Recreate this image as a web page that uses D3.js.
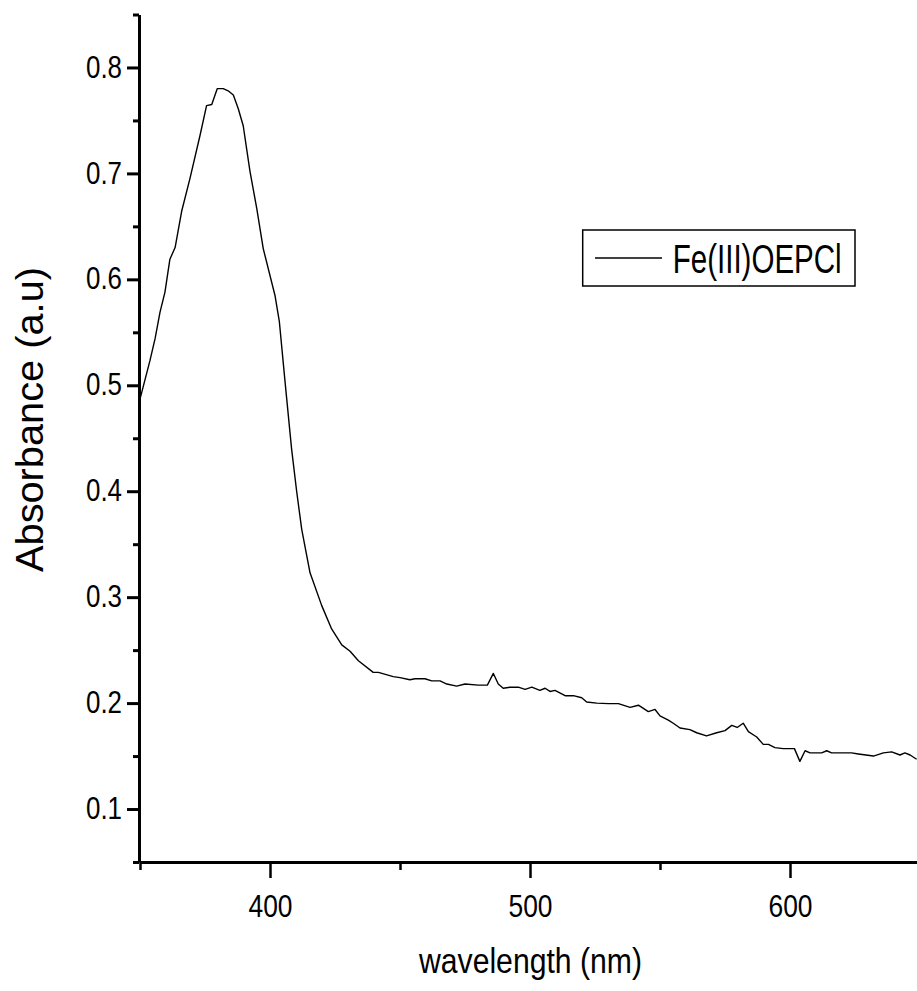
<!DOCTYPE html>
<html>
<head>
<meta charset="utf-8">
<script src="https://cdn.jsdelivr.net/npm/d3@7"></script>
<style>
  html, body { margin: 0; padding: 0; background: #fff; }
  svg { display: block; }
  text { font-family: "Liberation Sans", Arial, sans-serif; fill: #000; }
</style>
</head>
<body>
<svg id="chart" width="917" height="991"></svg>
<script>
// UV-Vis absorption spectrum of Fe(III)OEPCl
const wavelength = [350, 353.8, 355.8, 357.7, 359.6, 361.5, 363.5, 366, 369.2, 373.1, 375.6, 377.6, 379.7, 382, 383.9,
  385.9, 387.8, 389.7, 392.3, 394.9, 397.4, 401.9, 403.6, 405.8, 408.3, 410.3, 412.2, 415.4, 419.9, 423.7,
  427.6, 430.8, 434, 439.7, 441.7, 447.4, 450, 453.8, 455.8, 459.6, 462.2, 465.4, 468, 471.8, 475,
  480.1, 483.6, 485.9, 487.8, 489.7, 492.3, 495.5, 498.1, 500.7, 503.8, 505.8, 507.7, 509.6, 513.5, 516.7,
  519.9, 521.8, 525.7, 530.1, 534, 538.5, 541.7, 545.5, 548.1, 550, 553.2, 555.1, 557.7, 561.5, 564.1,
  567.9, 571.8, 575, 577.6, 579.7, 582, 584, 587.2, 589.7, 591.7, 594.2, 597.4, 601.7, 603.8, 605.8,
  607.7, 612.2, 614.1, 616, 623.7, 626.3, 632.1, 635.9, 639.1, 642.3, 644.2, 646.2, 648.7];
const absorbance = [0.487, 0.523, 0.544, 0.569, 0.588, 0.619, 0.630, 0.664, 0.695, 0.736, 0.764, 0.765, 0.780, 0.780, 0.778,
  0.774, 0.761, 0.745, 0.702, 0.667, 0.629, 0.585, 0.560, 0.503, 0.440, 0.399, 0.364, 0.323, 0.292, 0.270,
  0.255, 0.249, 0.240, 0.229, 0.229, 0.225, 0.224, 0.222, 0.223, 0.223, 0.221, 0.221, 0.218, 0.216, 0.218,
  0.217, 0.217, 0.228, 0.218, 0.214, 0.215, 0.215, 0.213, 0.215, 0.212, 0.214, 0.211, 0.212, 0.207, 0.207,
  0.205, 0.201, 0.200, 0.1995, 0.1995, 0.196, 0.198, 0.192, 0.194, 0.188, 0.184, 0.181, 0.1765, 0.175, 0.172,
  0.169, 0.172, 0.174, 0.179, 0.177, 0.181, 0.173, 0.168, 0.161, 0.161, 0.158, 0.157, 0.157, 0.145, 0.155,
  0.153, 0.153, 0.155, 0.153, 0.153, 0.152, 0.150, 0.153, 0.154, 0.151, 0.153, 0.151, 0.147];

const xMajorTicks = [400, 500, 600];
const xMinorTicks = [350, 450, 550, 650];
const yMajorTicks = [0.1, 0.2, 0.3, 0.4, 0.5, 0.6, 0.7, 0.8];
const yMinorTicks = [0.05, 0.15, 0.25, 0.35, 0.45, 0.55, 0.65, 0.75, 0.85];

const seriesName = "Fe(III)OEPCl";
const xTitle = "wavelength (nm)";
const yTitle = "Absorbance (a.u)";

const svg = d3.select("#chart");

const x = d3.scaleLinear().domain([350, 650]).range([140, 920]);
const y = d3.scaleLinear().domain([0.05, 0.85]).range([862, 14.5]);

// y axis (minor ticks first, then major ticks with labels and the axis line)
const yMinor = svg.append("g").attr("transform", "translate(139,0)")
  .call(d3.axisLeft(y).tickValues(yMinorTicks).tickSize(6).tickSizeOuter(0).tickFormat(""));
yMinor.select(".domain").remove();
yMinor.selectAll("line").attr("stroke", "#000").attr("stroke-width", 3);

const yMajor = svg.append("g").attr("transform", "translate(139,0)")
  .call(d3.axisLeft(y).tickValues(yMajorTicks).tickSize(12).tickSizeOuter(0).tickFormat(d3.format(".1f")));
yMajor.select(".domain").attr("stroke", "#000").attr("stroke-width", 3);
yMajor.selectAll("line").attr("stroke", "#000").attr("stroke-width", 3);
yMajor.selectAll("text")
  .attr("x", -17).attr("dy", "0.3em")
  .attr("font-size", 32)
  .attr("textLength", 36).attr("lengthAdjust", "spacingAndGlyphs");

// x axis
const xMinor = svg.append("g").attr("transform", "translate(0,862)")
  .call(d3.axisBottom(x).tickValues(xMinorTicks).tickSize(8).tickSizeOuter(0).tickFormat(""));
xMinor.select(".domain").remove();
xMinor.selectAll("line").attr("stroke", "#000").attr("stroke-width", 2.5);

const xMajor = svg.append("g").attr("transform", "translate(0,862)")
  .call(d3.axisBottom(x).tickValues(xMajorTicks).tickSize(16).tickSizeOuter(0).tickFormat(d3.format("d")));
xMajor.select(".domain").attr("stroke", "#000").attr("stroke-width", 3);
xMajor.selectAll("line").attr("stroke", "#000").attr("stroke-width", 2.5);
xMajor.selectAll("text")
  .attr("y", 54.5).attr("dy", 0)
  .attr("font-size", 32)
  .attr("textLength", 44).attr("lengthAdjust", "spacingAndGlyphs");

// spectrum
const points = wavelength.map((w, i) => [w, absorbance[i]]);
svg.append("path")
  .datum(points)
  .attr("fill", "none")
  .attr("stroke", "#000")
  .attr("stroke-width", 1.4)
  .attr("stroke-linejoin", "round")
  .attr("d", d3.line().x(d => x(d[0])).y(d => y(d[1])));

// axis titles
svg.append("text")
  .attr("transform", "translate(43,419.5) rotate(-90)")
  .attr("text-anchor", "middle")
  .attr("font-size", 39)
  .attr("textLength", 305).attr("lengthAdjust", "spacingAndGlyphs")
  .text(yTitle);

svg.append("text")
  .attr("x", 530.5).attr("y", 973)
  .attr("text-anchor", "middle")
  .attr("font-size", 35)
  .attr("textLength", 223).attr("lengthAdjust", "spacingAndGlyphs")
  .text(xTitle);

// legend
const legend = svg.append("g");
legend.append("rect")
  .attr("x", 582.7).attr("y", 230).attr("width", 272.3).attr("height", 56)
  .attr("fill", "#fff").attr("stroke", "#000").attr("stroke-width", 1.5);
legend.append("line")
  .attr("x1", 595).attr("x2", 662).attr("y1", 258).attr("y2", 258)
  .attr("stroke", "#000").attr("stroke-width", 1.4);
legend.append("text")
  .attr("x", 672.7).attr("y", 272.7)
  .attr("font-size", 41)
  .attr("textLength", 169).attr("lengthAdjust", "spacingAndGlyphs")
  .text(seriesName);
</script>
</body>
</html>
